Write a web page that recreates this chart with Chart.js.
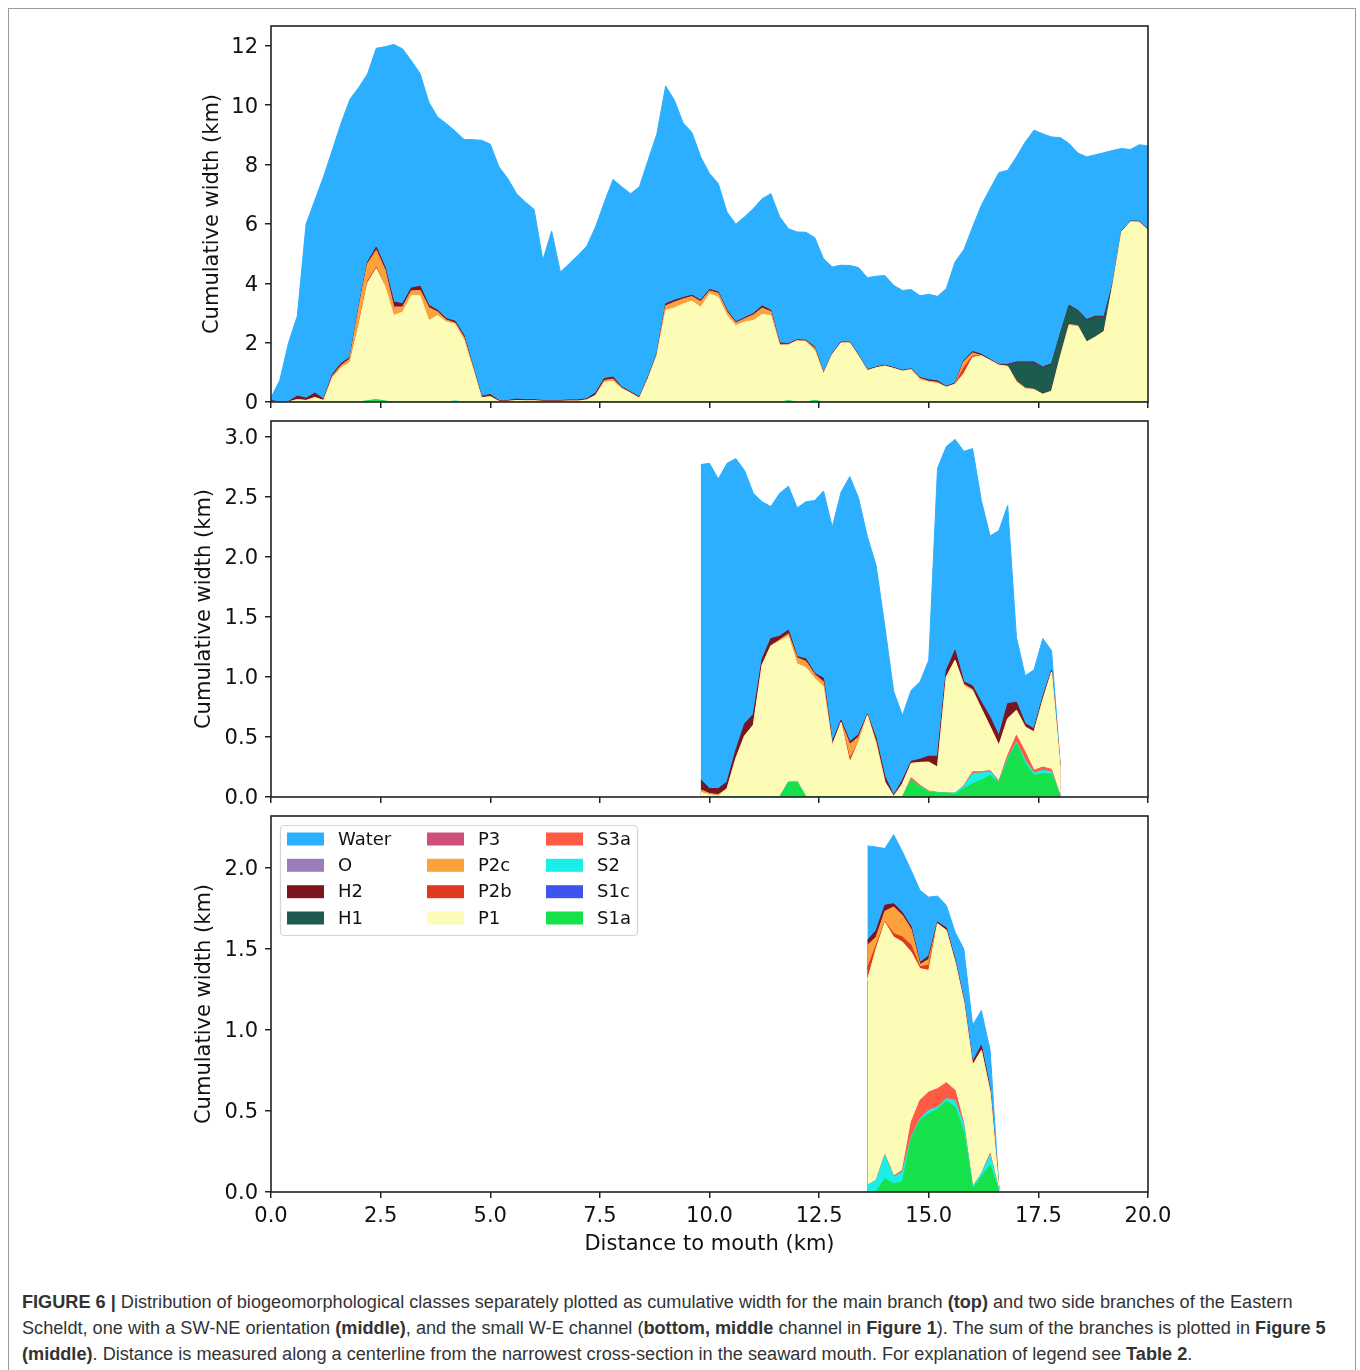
<!DOCTYPE html>
<html>
<head>
<meta charset="utf-8">
<script src="https://cdn.jsdelivr.net/npm/chart.js@4.4.1/dist/chart.umd.min.js"></script>
<style>
  html, body { margin: 0; padding: 0; background: #fff; }
  #fig { position: relative; width: 1360px; height: 1370px; overflow: hidden; }
  #frame { position: absolute; left: 8px; top: 8px; width: 1348px; height: 1380px; border: 1px solid #9a9a9a; box-sizing: border-box; }
  canvas { position: absolute; left: 0; }
  #caption { position: absolute; left: 22px; top: 1289px; font-family: "Liberation Sans Narrow", "Liberation Sans", sans-serif; font-size: 18.15px; line-height: 26px; color: #333; }
  #caption div { white-space: nowrap; }
</style>
</head>
<body>
<div id="fig">
  <div id="frame"></div>
  <canvas id="topChart" width="1360" height="422" style="top:0px"></canvas>
  <canvas id="midChart" width="1360" height="417" style="top:400px"></canvas>
  <canvas id="botChart" width="1360" height="475" style="top:795px"></canvas>
  <div id="caption">
    <div><b>FIGURE 6 |</b> Distribution of biogeomorphological classes separately plotted as cumulative width for the main branch <b>(top)</b> and two side branches of the Eastern</div>
    <div>Scheldt, one with a SW-NE orientation <b>(middle)</b>, and the small W-E channel (<b>bottom, middle</b> channel in <b>Figure 1</b>). The sum of the branches is plotted in <b>Figure 5</b></div>
    <div><b>(middle)</b>. Distance is measured along a centerline from the narrowest cross-section in the seaward mouth. For explanation of legend see <b>Table 2</b>.</div>
  </div>
</div>
<script>
// classes in stacking order (bottom -> top)
const classNames = ['S1a', 'S1c', 'S2', 'S3a', 'P1', 'P2b', 'P2c', 'P3', 'H1', 'H2', 'O', 'Water'];
const classColors = {
  S1a: '#16e04a', S1c: '#3f54ee', S2: '#1beee8', S3a: '#ff5b44',
  P1: '#fcfcb6', P2b: '#e03a1e', P2c: '#fca23c', P3: '#ce4f79',
  H1: '#1d5b51', H2: '#7a1520', O: '#9b7db8', Water: '#2cafff'
};

const xTicks = [0, 2.5, 5, 7.5, 10, 12.5, 15, 17.5, 20];
const topYTicks = [0, 2, 4, 6, 8, 10, 12];
const midYTicks = [0, 0.5, 1.0, 1.5, 2.0, 2.5, 3.0];
const botYTicks = [0, 0.5, 1.0, 1.5, 2.0];

// ---- main branch (top) ----
const topDist = [
  0, 0.2, 0.4, 0.6, 0.8, 1.0, 1.2, 1.4, 1.6, 1.8,
  2.0, 2.2, 2.4, 2.6, 2.8, 3.0, 3.2, 3.4, 3.6, 3.8,
  4.0, 4.2, 4.4, 4.6, 4.8, 5.0, 5.2, 5.4, 5.6, 5.8,
  6.0, 6.2, 6.4, 6.6, 6.8, 7.0, 7.2, 7.4, 7.6, 7.8,
  8.0, 8.2, 8.4, 8.6, 8.8, 9.0, 9.2, 9.4, 9.6, 9.8,
  10.0, 10.2, 10.4, 10.6, 10.8, 11.0, 11.2, 11.4, 11.6, 11.8,
  12.0, 12.2, 12.4, 12.6, 12.8, 13.0, 13.2, 13.4, 13.6, 13.8,
  14.0, 14.2, 14.4, 14.6, 14.8, 15.0, 15.2, 15.4, 15.6, 15.8,
  16.0, 16.2, 16.4, 16.6, 16.8, 17.0, 17.2, 17.4, 17.6, 17.8,
  18.0, 18.2, 18.4, 18.6, 18.8, 19.0, 19.2, 19.4, 19.6, 19.8,
  20.0
];
const topS1a = [
  0, 0, 0, 0, 0, 0, 0, 0, 0, 0,
  0, 0.04, 0.08, 0.03, 0, 0, 0, 0, 0, 0,
  0, 0, 0, 0, 0, 0, 0, 0, 0, 0,
  0, 0, 0, 0, 0, 0, 0, 0, 0.02, 0,
  0, 0, 0, 0, 0, 0, 0, 0, 0, 0,
  0, 0, 0, 0, 0, 0, 0, 0, 0, 0.04,
  0, 0, 0.05, 0, 0, 0, 0, 0, 0, 0,
  0, 0, 0, 0, 0, 0, 0, 0, 0, 0,
  0, 0, 0, 0, 0, 0, 0, 0, 0, 0,
  0, 0, 0, 0, 0, 0, 0, 0, 0, 0,
  0
];
const topS2 = [
  0, 0, 0, 0, 0, 0, 0, 0, 0, 0,
  0, 0, 0, 0, 0, 0, 0, 0, 0, 0,
  0, 0.04, 0, 0, 0, 0, 0, 0, 0, 0,
  0, 0, 0, 0, 0, 0, 0, 0, 0, 0,
  0, 0, 0, 0, 0, 0, 0, 0, 0, 0,
  0, 0, 0, 0, 0, 0, 0, 0, 0, 0,
  0, 0, 0, 0, 0, 0, 0, 0, 0, 0,
  0, 0, 0, 0, 0, 0, 0, 0, 0, 0,
  0, 0, 0, 0, 0, 0, 0, 0, 0, 0,
  0, 0, 0, 0, 0, 0, 0, 0, 0, 0,
  0.02
];
const topP1 = [
  0, 0, 0, 0.08, 0.05, 0.15, 0.05, 0.82, 1.15, 1.35,
  2.6, 3.96, 4.42, 3.87, 2.92, 3.03, 3.6, 3.6, 2.75, 2.92,
  2.7, 2.58, 2.1, 1.15, 0.14, 0.18, 0.02, 0.02, 0.05, 0.04,
  0.04, 0.02, 0.02, 0.02, 0.03, 0.03, 0.07, 0.22, 0.65, 0.7,
  0.45, 0.3, 0.13, 0.79, 1.57, 3.09, 3.18, 3.31, 3.4, 3.2,
  3.65, 3.54, 2.92, 2.58, 2.7, 2.75, 2.96, 2.92, 1.91, 1.88,
  2.06, 2.03, 1.69, 0.95, 1.6, 1.99, 1.99, 1.54, 1.06, 1.15,
  1.21, 1.13, 1.04, 1.09, 0.76, 0.67, 0.63, 0.5, 0.6, 0.96,
  1.5, 1.56, 1.4, 1.24, 1.2, 0.67, 0.45, 0.42, 0.26, 0.36,
  1.52, 2.58, 2.55, 2.02, 2.19, 2.38, 3.97, 5.74, 6.07, 6.06,
  5.77
];
const topP2b = [
  0, 0, 0, 0, 0, 0, 0, 0, 0, 0,
  0.05, 0.05, 0.05, 0, 0, 0, 0, 0, 0, 0,
  0, 0, 0, 0, 0, 0, 0, 0, 0, 0,
  0, 0, 0, 0, 0, 0, 0, 0, 0, 0,
  0, 0, 0, 0, 0, 0, 0, 0, 0, 0,
  0, 0, 0, 0, 0, 0, 0, 0, 0, 0,
  0, 0, 0, 0, 0, 0, 0, 0, 0, 0,
  0, 0, 0, 0, 0, 0, 0, 0, 0, 0.2,
  0.05, 0, 0, 0, 0, 0, 0, 0, 0, 0,
  0, 0, 0, 0, 0, 0, 0, 0, 0, 0,
  0
];
const topP2c = [
  0, 0, 0, 0, 0, 0, 0, 0.05, 0.08, 0.1,
  0.5, 0.6, 0.55, 0.55, 0.25, 0.17, 0.14, 0.16, 0.43, 0.11,
  0.06, 0.04, 0.08, 0.03, 0, 0, 0, 0, 0, 0,
  0, 0, 0, 0, 0, 0, 0, 0, 0.05, 0.07,
  0.02, 0, 0, 0, 0.02, 0.15, 0.18, 0.16, 0.15, 0.18,
  0.09, 0.12, 0.12, 0.08, 0.1, 0.18, 0.2, 0.12, 0.03, 0.02,
  0.01, 0.02, 0.07, 0, 0, 0, 0, 0, 0, 0,
  0, 0, 0, 0, 0.03, 0.03, 0.03, 0, 0, 0.2,
  0.1, 0, 0, 0, 0, 0.03, 0.02, 0, 0, 0,
  0, 0.03, 0.02, 0, 0, 0, 0, 0, 0, 0,
  0
];
const topP3 = [
  0, 0, 0, 0, 0, 0, 0, 0, 0, 0,
  0, 0, 0.02, 0, 0.05, 0, 0, 0, 0, 0,
  0, 0, 0, 0, 0, 0, 0, 0, 0, 0,
  0, 0, 0, 0, 0, 0, 0, 0, 0, 0,
  0, 0, 0, 0, 0, 0, 0, 0, 0, 0,
  0, 0, 0, 0, 0, 0, 0, 0, 0, 0,
  0, 0, 0, 0, 0, 0, 0, 0, 0, 0,
  0, 0, 0, 0, 0, 0, 0, 0, 0, 0,
  0, 0, 0, 0, 0, 0, 0, 0, 0, 0,
  0, 0, 0, 0, 0, 0, 0, 0, 0, 0,
  0
];
const topH1 = [
  0, 0, 0, 0, 0, 0, 0, 0, 0, 0,
  0, 0, 0, 0, 0, 0, 0, 0, 0, 0,
  0, 0, 0, 0, 0, 0, 0, 0, 0, 0,
  0, 0, 0, 0, 0, 0, 0, 0, 0, 0,
  0, 0, 0, 0, 0, 0, 0, 0, 0, 0,
  0, 0, 0, 0, 0, 0, 0.03, 0, 0, 0,
  0, 0, 0, 0, 0, 0, 0, 0, 0, 0,
  0, 0, 0, 0, 0, 0, 0, 0, 0, 0,
  0, 0, 0, 0, 0.04, 0.62, 0.85, 0.9, 0.89, 0.9,
  0.75, 0.62, 0.49, 0.73, 0.67, 0.48, 0.02, 0, 0, 0,
  0
];
const topH2 = [
  0.05, 0, 0.02, 0.12, 0.08, 0.15, 0.05, 0.06, 0.07, 0.05,
  0.05, 0.06, 0.1, 0.1, 0.15, 0.11, 0.1, 0.14, 0.08, 0.06,
  0.05, 0.06, 0.07, 0.05, 0.05, 0.07, 0.03, 0.03, 0.05, 0.04,
  0.04, 0.03, 0.02, 0.03, 0.04, 0.04, 0.04, 0.08, 0.07, 0.07,
  0.03, 0.04, 0.04, 0.05, 0.04, 0.07, 0.07, 0.05, 0.05, 0.05,
  0.05, 0.05, 0.05, 0.04, 0.04, 0.05, 0.05, 0.05, 0.05, 0.03,
  0.03, 0.03, 0.04, 0.03, 0.03, 0.03, 0.03, 0.03, 0.03, 0.03,
  0.03, 0.03, 0.03, 0.03, 0.03, 0.05, 0.05, 0.03, 0.04, 0.04,
  0.05, 0.05, 0.03, 0.03, 0.03, 0.03, 0.03, 0.03, 0.03, 0.03,
  0.03, 0.03, 0.03, 0.03, 0.03, 0.03, 0.02, 0.02, 0.03, 0.03,
  0.03
];
const topWater = [
  0.1, 0.73, 1.98, 2.7, 5.87, 6.5, 7.5, 7.57, 8.1, 8.7,
  7.4, 6.34, 6.7, 7.42, 8.68, 8.59, 7.66, 7.17, 6.84, 6.51,
  6.57, 6.41, 6.6, 7.61, 8.63, 8.44, 7.87, 7.48, 6.92, 6.66,
  6.41, 4.73, 5.72, 4.33, 4.59, 4.87, 5.14, 5.6, 5.93, 6.66,
  6.75, 6.68, 7.08, 7.31, 7.41, 7.34, 6.74, 5.88, 5.48, 4.83,
  3.91, 3.65, 3.31, 3.29, 3.4, 3.54, 3.61, 3.93, 4.25, 3.87,
  3.63, 3.64, 3.69, 3.85, 2.92, 2.59, 2.58, 2.96, 3.1, 3.06,
  3.02, 2.77, 2.69, 2.67, 2.76, 2.88, 2.85, 3.29, 4.08, 3.73,
  4.2, 5.02, 5.76, 6.46, 6.54, 6.91, 7.41, 7.81, 7.86, 7.64,
  6.61, 5.45, 5.3, 5.48, 5.44, 5.51, 4.47, 2.78, 2.41, 2.58,
  2.81
];

// ---- SW-NE side branch (middle) ----
const midDist = [
  9.8, 10.0, 10.2, 10.4, 10.6, 10.8, 11.0, 11.2, 11.4, 11.6,
  11.8, 12.0, 12.2, 12.4, 12.6, 12.8, 13.0, 13.2, 13.4, 13.6,
  13.8, 14.0, 14.2, 14.4, 14.6, 14.8, 15.0, 15.2, 15.4, 15.6,
  15.8, 16.0, 16.2, 16.4, 16.6, 16.8, 17.0, 17.2, 17.4, 17.6,
  17.8, 18.0
];
const midS1a = [
  0, 0, 0, 0, 0, 0, 0, 0, 0, 0,
  0.12, 0.12, 0, 0, 0, 0, 0, 0, 0, 0,
  0, 0, 0, 0, 0.14, 0.083, 0.04, 0.033, 0.033, 0.022,
  0.07, 0.11, 0.14, 0.18, 0.117, 0.305, 0.444, 0.278, 0.18, 0.194,
  0.19, 0.005
];
const midS2 = [
  0, 0, 0, 0, 0, 0, 0, 0, 0, 0,
  0.005, 0.01, 0, 0, 0, 0, 0, 0, 0, 0,
  0, 0, 0, 0, 0, 0.005, 0.005, 0.003, 0, 0.011,
  0.02, 0.085, 0.06, 0.03, 0.008, 0.015, 0.014, 0.028, 0.02, 0.028,
  0.02, 0
];
const midS3a = [
  0, 0, 0, 0, 0, 0, 0, 0, 0, 0,
  0, 0, 0, 0, 0, 0, 0, 0, 0, 0,
  0, 0, 0, 0, 0.02, 0.01, 0.005, 0.003, 0, 0,
  0.005, 0.015, 0.01, 0.01, 0.008, 0.027, 0.056, 0.069, 0.022, 0.028,
  0.02, 0
];
const midP1 = [
  0.04, 0.02, 0.01, 0.07, 0.32, 0.51, 0.6, 1.1, 1.26, 1.3,
  1.215, 0.98, 1.08, 0.99, 0.92, 0.43, 0.62, 0.29, 0.46, 0.68,
  0.44, 0.125, 0.005, 0.11, 0.12, 0.19, 0.24, 0.21, 0.967, 1.106,
  0.835, 0.675, 0.525, 0.365, 0.297, 0.306, 0.208, 0.208, 0.32, 0.556,
  0.81, 0.235
];
const midP2b = [
  0, 0, 0, 0, 0, 0, 0, 0, 0, 0,
  0, 0, 0, 0, 0, 0, 0, 0.03, 0, 0,
  0, 0, 0, 0, 0, 0, 0, 0, 0, 0,
  0, 0, 0, 0, 0, 0, 0, 0, 0, 0,
  0, 0
];
const midP2c = [
  0.02, 0.01, 0.01, 0, 0, 0, 0, 0, 0, 0.01,
  0.02, 0.05, 0.05, 0.03, 0.04, 0, 0, 0.12, 0.04, 0,
  0.02, 0, 0, 0, 0, 0, 0, 0, 0, 0,
  0.01, 0.01, 0, 0, 0, 0, 0, 0, 0, 0,
  0, 0
];
const midH2 = [
  0.084, 0.04, 0.05, 0.055, 0.07, 0.1, 0.09, 0.05, 0.06, 0.03,
  0.03, 0.01, 0.02, 0.01, 0.03, 0.03, 0.02, 0.02, 0.02, 0.01,
  0.03, 0.045, 0.01, 0.03, 0.017, 0.027, 0.05, 0.09, 0.056, 0.083,
  0.02, 0.03, 0.055, 0.08, 0.08, 0.125, 0.068, 0.028, 0.027, 0.027,
  0.015, 0.01
];
const midWater = [
  2.626, 2.71, 2.58, 2.655, 2.43, 2.11, 1.84, 1.31, 1.1, 1.19,
  1.2, 1.24, 1.31, 1.44, 1.56, 1.79, 1.9, 2.21, 1.97, 1.48,
  1.44, 1.25, 0.866, 0.54, 0.593, 0.645, 0.8, 2.4, 1.864, 1.758,
  1.92, 1.978, 1.68, 1.51, 1.71, 1.652, 0.54, 0.4, 0.49, 0.487,
  0.165, 0.02
];

// ---- small W-E channel (bottom) ----
const botDist = [13.6, 13.8, 14.0, 14.2, 14.4, 14.6, 14.8, 15.0, 15.2, 15.4, 15.6, 15.8, 16.0, 16.2, 16.4, 16.6];
const botS1a = [0, 0, 0.082, 0.051, 0.062, 0.329, 0.442, 0.484, 0.51, 0.56, 0.525, 0.37, 0.02, 0.093, 0.165, 0.004];
const botS2 = [0.041, 0.072, 0.144, 0.042, 0.061, 0.01, 0.011, 0.02, 0.015, 0.016, 0.041, 0.042, 0.011, 0.02, 0.061, 0.006];
const botS3a = [0, 0, 0.004, 0.006, 0.011, 0.093, 0.113, 0.113, 0.113, 0.099, 0.062, 0.008, 0, 0, 0.011, 0];
const botP1 = [1.266, 1.43, 1.433, 1.475, 1.409, 1.049, 0.813, 0.751, 1.018, 0.94, 0.792, 0.753, 0.751, 0.761, 0.38, 0.005];
const botP2b = [0.072, 0.021, 0.005, 0.021, 0.031, 0.042, 0.011, 0.032, 0, 0, 0, 0, 0, 0, 0, 0];
const botP2c = [0.144, 0.051, 0.065, 0.165, 0.134, 0.098, 0.014, 0.036, 0, 0, 0, 0, 0, 0, 0, 0];
const botH2 = [0.03, 0.041, 0.037, 0.02, 0.016, 0.015, 0.012, 0.021, 0.011, 0.015, 0.016, 0.014, 0.02, 0.031, 0.021, 0.003];
const botWater = [0.583, 0.515, 0.35, 0.426, 0.376, 0.349, 0.446, 0.363, 0.16, 0.14, 0.169, 0.313, 0.228, 0.215, 0.237, 0.005];

Chart.defaults.font.family = '"DejaVu Sans", sans-serif';
Chart.defaults.color = '#111';

const axisColor = '#222';
const tickFont = { family: '"DejaVu Sans", sans-serif', size: 21 };

// box around the plot area, like the matplotlib spines
const framePlugin = {
  id: 'frame',
  afterDraw(chart) {
    const { ctx, chartArea: a } = chart;
    ctx.save();
    ctx.strokeStyle = axisColor;
    ctx.lineWidth = 1.6;
    ctx.strokeRect(a.left, a.top, a.right - a.left, a.bottom - a.top);
    ctx.restore();
  }
};

// matplotlib-style legend inside the bottom plot: 3 columns x 4 rows
const legendPlugin = {
  id: 'classLegend',
  afterDraw(chart) {
    const { ctx, chartArea: a } = chart;
    const x0 = a.left + 9, y0 = a.top + 9;
    ctx.save();
    ctx.fillStyle = 'rgba(255,255,255,0.85)';
    ctx.strokeStyle = '#d4d4d4';
    ctx.lineWidth = 1.2;
    ctx.beginPath();
    ctx.roundRect(x0 + 0.5, y0 + 0.5, 357, 110, 4);
    ctx.fill();
    ctx.stroke();
    const colX = [7, 147, 266];
    const rowY = [14, 40.3, 66.7, 93];
    const items = classNames.slice().reverse();
    ctx.font = '18px "DejaVu Sans"';
    ctx.textBaseline = 'middle';
    items.forEach((name, i) => {
      const c = Math.floor(i / 4), r = i % 4;
      const px = x0 + colX[c], py = y0 + rowY[r];
      ctx.fillStyle = classColors[name];
      ctx.fillRect(px, py - 6.5, 37, 13);
      ctx.fillStyle = '#111';
      ctx.fillText(name, px + 51, py + 1);
    });
    ctx.restore();
  }
};

function stackPanel(canvasId, dist, layers, cfg) {
  const names = classNames.filter(n => layers[n]);
  // every layer fills down to the axis; Chart.js paints the upper layers first,
  // so each lower layer covers the part below its own stacked line
  const datasets = names.map(n => ({
    label: n,
    data: dist.map((d, j) => ({ x: d, y: layers[n][j] })),
    backgroundColor: classColors[n],
    borderColor: classColors[n],
    borderWidth: 1,
    fill: 'origin',
    pointRadius: 0,
    tension: 0
  }));

  return new Chart(document.getElementById(canvasId), {
    type: 'line',
    data: { datasets: datasets },
    plugins: cfg.legend ? [framePlugin, legendPlugin] : [framePlugin],
    options: {
      responsive: false,
      animation: false,
      devicePixelRatio: 1,
      layout: { padding: { top: cfg.padTop, right: 212, bottom: 0, left: 0 } },
      plugins: { legend: { display: false }, tooltip: { enabled: false } },
      scales: {
        x: {
          type: 'linear',
          min: 0,
          max: 20,
          afterBuildTicks: s => { s.ticks = xTicks.map(v => ({ value: v })); },
          afterFit: s => { s.height = cfg.xHeight; },
          border: { display: false },
          grid: { drawOnChartArea: false, drawTicks: true, tickLength: 6, color: axisColor, lineWidth: 1.5 },
          ticks: { display: cfg.showX, font: tickFont, color: '#111', padding: 6, maxRotation: 0, callback: v => v.toFixed(1) },
          title: { display: cfg.showX, text: 'Distance to mouth (km)', font: tickFont, color: '#111', padding: { top: 0, bottom: 13 } }
        },
        y: {
          stacked: true,
          min: 0,
          max: cfg.yMax,
          afterBuildTicks: s => { s.ticks = cfg.yTicks.map(v => ({ value: v })); },
          afterFit: s => { s.width = 271; },
          border: { display: false },
          grid: { drawOnChartArea: false, drawTicks: true, tickLength: 6, color: axisColor, lineWidth: 1.5 },
          ticks: { font: tickFont, color: '#111', padding: 7, labelOffset: 2, callback: v => v.toFixed(cfg.yDigits) },
          title: { display: true, text: 'Cumulative width (km)', font: tickFont, color: '#111', padding: { top: cfg.titleX - 12.6, bottom: 0 } }
        }
      }
    }
  });
}

stackPanel('topChart', topDist,
  { S1a: topS1a, S2: topS2, P1: topP1, P2b: topP2b, P2c: topP2c, P3: topP3, H1: topH1, H2: topH2, Water: topWater },
  { padTop: 26, xHeight: 20, showX: false, yMax: 12.67, yTicks: topYTicks, yDigits: 0, titleX: 213 });

stackPanel('midChart', midDist,
  { S1a: midS1a, S2: midS2, S3a: midS3a, P1: midP1, P2b: midP2b, P2c: midP2c, H2: midH2, Water: midWater },
  { padTop: 21, xHeight: 20, showX: false, yMax: 3.133, yTicks: midYTicks, yDigits: 1, titleX: 205 });

stackPanel('botChart', botDist,
  { S1a: botS1a, S2: botS2, S3a: botS3a, P1: botP1, P2b: botP2b, P2c: botP2c, H2: botH2, Water: botWater },
  { padTop: 21, xHeight: 78, showX: true, yMax: 2.321, yTicks: botYTicks, yDigits: 1, titleX: 205, legend: true });
</script>
</body>
</html>
